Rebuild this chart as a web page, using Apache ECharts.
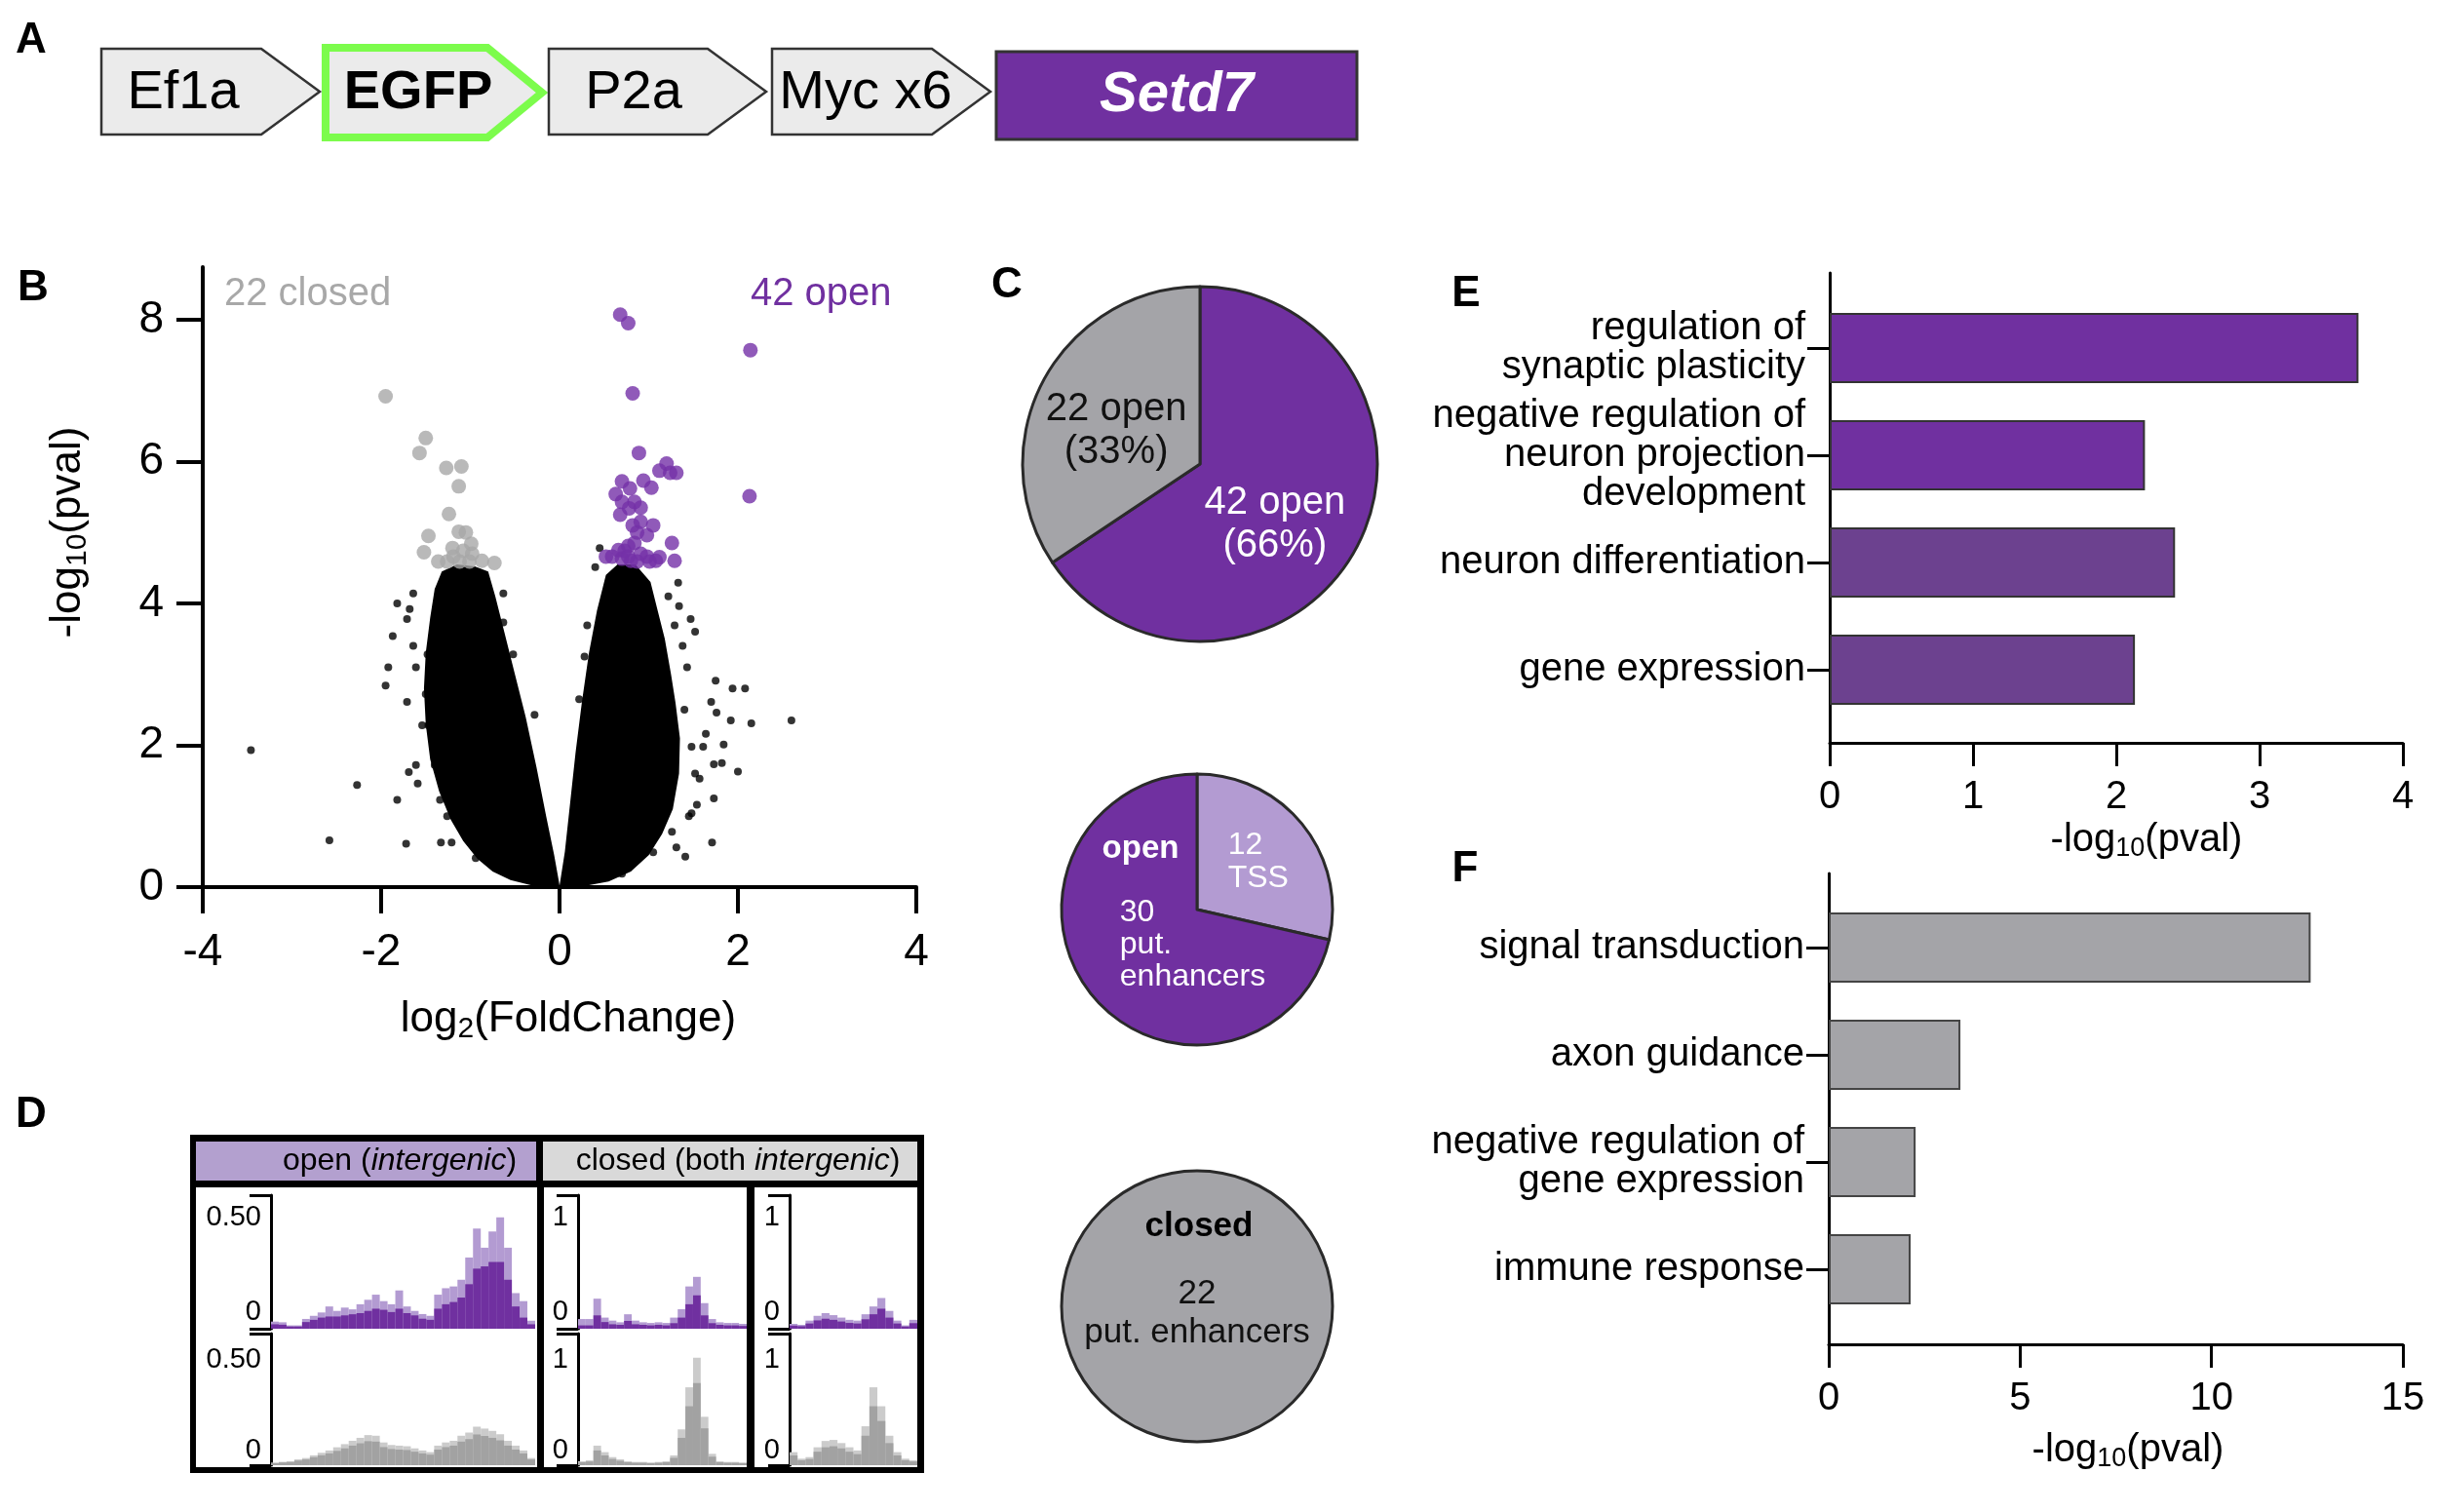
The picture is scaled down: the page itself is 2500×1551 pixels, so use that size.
<!DOCTYPE html>
<html><head><meta charset="utf-8">
<script src="https://cdn.jsdelivr.net/npm/echarts@6/dist/echarts.min.js"></script>
<style>html,body{margin:0;padding:0;background:#fff}#c{width:2500px;height:1551px}</style>
</head><body><div id="c"></div>
<script>
// ---------- DATA ----------
// B: volcano plot
const closedPoints = [[-1.95,6.92],[-1.50,6.33],[-1.57,6.12],[-1.27,5.91],[-1.10,5.93],[-1.13,5.65],[-1.24,5.26],[-1.47,4.95],[-1.13,5.01],[-1.05,5.0],[-1.52,4.72],[-1.20,4.78],[-0.99,4.84],[-1.36,4.59],[-1.19,4.66],[-1.08,4.74],[-0.98,4.70],[-0.87,4.60],[-0.73,4.57],[-1.26,4.59],[-1.12,4.59],[-1.01,4.59]];
const openPoints = [[0.68,8.07],[0.77,7.95],[2.14,7.57],[0.82,6.96],[0.89,6.12],[1.20,5.97],[1.12,5.87],[1.24,5.84],[1.31,5.84],[0.70,5.72],[0.94,5.73],[1.03,5.63],[0.79,5.62],[2.13,5.51],[0.63,5.54],[0.70,5.43],[0.84,5.43],[0.78,5.34],[0.91,5.35],[0.68,5.25],[0.91,5.15],[1.05,5.10],[0.82,5.10],[0.87,5.0],[0.98,4.96],[1.26,4.85],[0.77,4.81],[0.84,4.85],[0.66,4.75],[0.73,4.74],[0.59,4.66],[0.91,4.70],[0.98,4.66],[1.12,4.65],[1.29,4.60],[0.70,4.63],[0.80,4.60],[1.01,4.59],[0.52,4.66],[0.77,4.66],[0.87,4.59],[1.08,4.60]];
const otherPoints = [[-3.46,1.93],[-2.58,0.66],[-2.27,1.44],[-1.82,1.23],[-1.72,0.61],[-1.69,1.62],[-1.61,1.72],[-1.59,1.46],[-1.33,0.63],[-1.21,0.63],[-1.95,2.84],[-1.92,3.10],[-1.87,3.54],[-1.82,4.0],[-1.71,3.78],[-1.64,4.14],[-1.71,2.61],[-1.54,2.28],[-0.63,4.14],[-0.63,3.73],[-0.52,3.28],[-0.28,2.43],[-0.94,0.41],
  [-1.68,3.92],[-1.64,3.40],[-1.61,3.10],[-1.48,3.28],[-1.40,3.62],[-1.50,2.72],[-1.47,2.28],[-1.40,1.72],[-1.34,1.23],[-1.26,1.0],[-0.49,2.43],[-0.38,1.90],[-0.28,1.31],
  [0.31,3.69],[0.45,4.78],[0.40,4.51],[1.47,3.78],[1.52,3.60],[1.75,2.91],[1.94,2.80],[2.08,2.80],[1.70,2.61],[1.76,2.46],[1.92,2.35],[2.15,2.31],[2.60,2.35],[1.84,2.01],[1.64,2.16],[1.61,1.98],[1.73,1.73],[1.82,1.75],[2.00,1.63],[1.73,1.25],[1.71,0.63],[1.41,0.43],[1.31,0.56],[1.54,1.16],[1.48,1.04],[1.57,1.53],[1.33,4.29],[1.22,4.10],[1.34,3.96],[0.65,0.20],
  [1.29,3.69],[1.38,3.40],[1.43,3.10],[1.40,2.50],[1.48,1.98],[1.52,1.60],[1.45,1.0],[1.26,0.78],[1.05,0.49],[0.70,0.19],[0.28,3.25],[0.22,2.65]];
// outline of the dense cloud of non-significant peaks
const cloudLeft = [[0,0.02],[-0.3,0.02],[-0.55,0.1],[-0.75,0.22],[-0.92,0.4],[-1.08,0.65],[-1.22,0.95],[-1.35,1.35],[-1.45,1.8],[-1.5,2.3],[-1.52,2.8],[-1.5,3.3],[-1.45,3.8],[-1.4,4.2],[-1.32,4.45],[-1.15,4.55],[-0.95,4.52],[-0.8,4.45],[-0.72,4.1],[-0.62,3.6],[-0.5,3.0],[-0.38,2.4],[-0.26,1.7],[-0.15,1.0],[-0.06,0.45],[-0.01,0.1]];
const cloudRight = [[0.01,0.1],[0.06,0.5],[0.12,1.2],[0.18,1.9],[0.25,2.6],[0.33,3.3],[0.42,3.9],[0.52,4.4],[0.65,4.55],[0.85,4.55],[1.02,4.3],[1.1,3.9],[1.18,3.5],[1.25,3.0],[1.3,2.6],[1.35,2.1],[1.34,1.6],[1.27,1.1],[1.15,0.75],[1.0,0.45],[0.8,0.22],[0.55,0.08],[0.3,0.02],[0,0.02]];
const volcanoXTicks = [-4,-2,0,2,4];
const volcanoYTicks = [0,2,4,6,8];

// C: pies
const pieTopValues = [42, 22];
const pieTopLabels = ['42 open\n(66%)', '22 open\n(33%)'];
const pieMidValues = [12, 30];
const pieMidLabels = ['{a|12}\n{a|TSS}', '{b|30}\n{b|put.}\n{b|enhancers}'];
const pieBotValues = [22];
const pieBotLabels = ['22\nput. enhancers'];

// E, F: GO term bars
const eTerms = ['regulation of\nsynaptic plasticity', 'negative regulation of\nneuron projection\ndevelopment', 'neuron differentiation', 'gene expression'];
const eValues = [3.69, 2.20, 2.41, 2.13];
const fTerms = ['signal transduction', 'axon guidance', 'negative regulation of\ngene expression', 'immune response'];
const fValues = [12.59, 3.44, 2.27, 2.14];

// D: coverage tracks (light = max, dark = mean)
const p1UpLight = [0.032,0.029,0.015,0.015,0.044,0.058,0.073,0.10,0.08,0.095,0.087,0.11,0.13,0.153,0.124,0.11,0.172,0.10,0.08,0.066,0.058,0.153,0.182,0.19,0.22,0.32,0.45,0.364,0.437,0.50,0.364,0.16,0.124,0.036];
const p1UpDark  = [0.02,0.018,0.01,0.01,0.03,0.04,0.05,0.055,0.055,0.06,0.065,0.07,0.08,0.09,0.085,0.075,0.09,0.07,0.06,0.045,0.04,0.09,0.11,0.12,0.14,0.2,0.27,0.28,0.3,0.3,0.22,0.1,0.05,0.02];
const p1LowLight = [0.012,0.016,0.019,0.028,0.034,0.047,0.059,0.07,0.085,0.10,0.116,0.13,0.143,0.14,0.108,0.096,0.093,0.09,0.08,0.07,0.062,0.093,0.108,0.116,0.14,0.155,0.183,0.174,0.163,0.147,0.116,0.093,0.07,0.034];
const p1LowDark  = [0.01,0.013,0.015,0.022,0.027,0.038,0.047,0.056,0.068,0.08,0.093,0.104,0.114,0.112,0.086,0.077,0.074,0.072,0.064,0.056,0.05,0.074,0.086,0.093,0.112,0.124,0.146,0.139,0.13,0.118,0.093,0.074,0.056,0.027];
const p2UpLight = [0.087,0.087,0.27,0.10,0.073,0.058,0.13,0.073,0.058,0.052,0.058,0.052,0.10,0.175,0.38,0.466,0.23,0.087,0.058,0.052,0.052,0.044];
const p2UpDark  = [0.03,0.03,0.12,0.06,0.04,0.035,0.07,0.04,0.035,0.03,0.035,0.03,0.05,0.1,0.22,0.3,0.12,0.05,0.035,0.03,0.03,0.025];
const p2LowLight = [0.037,0.046,0.186,0.124,0.077,0.056,0.037,0.031,0.031,0.025,0.031,0.037,0.093,0.34,0.74,1.02,0.46,0.108,0.037,0.031,0.031,0.025];
const p2LowDark  = [0.028,0.035,0.14,0.093,0.058,0.042,0.028,0.023,0.023,0.019,0.023,0.028,0.07,0.26,0.56,0.78,0.35,0.081,0.028,0.023,0.023,0.019];
const p3UpLight = [0.044,0.035,0.073,0.116,0.14,0.122,0.10,0.08,0.073,0.13,0.20,0.276,0.16,0.073,0.03,0.08];
const p3UpDark  = [0.028,0.023,0.047,0.075,0.09,0.08,0.065,0.052,0.047,0.085,0.13,0.18,0.1,0.047,0.02,0.05];
const p3LowLight = [0.124,0.062,0.077,0.17,0.23,0.24,0.21,0.17,0.14,0.37,0.74,0.56,0.28,0.124,0.062,0.046];
const p3LowDark  = [0.093,0.047,0.058,0.128,0.17,0.18,0.16,0.128,0.105,0.28,0.56,0.42,0.21,0.093,0.047,0.035];
const trackUpTicks1 = [0, 0.5];
const trackLowTicks1 = [0, 0.5];
const trackTicks23 = [0, 1];

// ---------- STYLE ----------
const FONT = '"Liberation Sans", Arial, sans-serif';
const PURPLE = '#7030a0', PURPLE2 = '#6c418f', LPURPLE = '#b39bd2', GREY = '#a4a4a8';
const chart = echarts.init(document.getElementById('c'), null, {renderer: 'canvas'});

function T(text, x, y, size, extra) {
  return {type: 'text', z: 100, style: Object.assign({text, x, y, fontSize: size, fontFamily: FONT, fill: '#000', align: 'center', verticalAlign: 'middle'}, extra || {})};
}
function subTitle(pre, sub, post, x, y, size, extra) {
  return {type: 'text', z: 100, rotation: extra && extra.rot || 0, x, y, style: {
    text: '{a|' + pre + '}{s|' + sub + '}{a|' + post + '}', x: 0, y: 0, align: 'center', verticalAlign: 'middle',
    rich: {a: {fontSize: size, fontFamily: FONT, fill: '#000'}, s: {fontSize: Math.round(size * 0.68), fontFamily: FONT, fill: '#000', padding: [Math.round(size * 0.45), 0, 0, 0]}}
  }};
}
function box(pts, stroke, lw) {
  return {type: 'polygon', shape: {points: pts}, style: {fill: '#ebebeb', stroke: stroke, lineWidth: lw}};
}
const graphics = [
  // panel letters
  T('A', 32, 42, 44, {fontWeight: 'bold'}), T('B', 34, 296, 44, {fontWeight: 'bold'}),
  T('C', 1033, 293, 44, {fontWeight: 'bold'}), T('D', 32, 1144, 44, {fontWeight: 'bold'}),
  T('E', 1504, 302, 44, {fontWeight: 'bold'}), T('F', 1503, 892, 44, {fontWeight: 'bold'}),
  // A construct
  box([[104,50],[268,50],[328,94],[268,138],[104,138]], '#333', 2.5),
  box([[334,49],[500,49],[556,95],[500,141],[334,141]], '#7cfc4c', 8),
  box([[563,50],[726,50],[786,94],[726,138],[563,138]], '#333', 2.5),
  box([[792,50],[956,50],[1016,94],[956,138],[792,138]], '#333', 2.5),
  {type: 'rect', shape: {x: 1022, y: 53, width: 370, height: 90}, style: {fill: PURPLE, stroke: '#333', lineWidth: 3}},
  T('Ef1a', 188, 96, 56), T('EGFP', 429, 96, 56, {fontWeight: 'bold'}), T('P2a', 650, 96, 56), T('Myc x6', 888, 96, 56),
  T('Setd7', 1207, 98, 58, {fontWeight: 'bold', fontStyle: 'italic', fill: '#fff'}),
  // B annotations and titles
  T('22 closed', 230, 302, 40, {align: 'left', fill: '#a8a8a8'}),
  T('42 open', 770, 302, 40, {align: 'left', fill: PURPLE}),
  subTitle('log', '2', '(FoldChange)', 583, 1046, 44),
  subTitle('-log', '10', '(pval)', 70, 546, 44, {rot: Math.PI / 2}),
  // C pie inner titles
  T('open', 1170, 871, 33, {fontWeight: 'bold', fill: '#fff'}),
  T('closed', 1230, 1258, 35, {fontWeight: 'bold'}),
  // E, F axis titles
  subTitle('-log', '10', '(pval)', 2202, 862, 40),
  subTitle('-log', '10', '(pval)', 2183, 1488, 40),
  // D frame
  {type: 'rect', shape: {x: 195, y: 1164, width: 753, height: 347}, style: {fill: '#000'}},
  {type: 'rect', shape: {x: 201, y: 1171, width: 349, height: 40}, style: {fill: '#b3a0cf'}},
  {type: 'rect', shape: {x: 557, y: 1171, width: 384, height: 40}, style: {fill: '#d9d9d9'}},
  {type: 'rect', shape: {x: 201, y: 1218, width: 350, height: 287}, style: {fill: '#fff'}},
  {type: 'rect', shape: {x: 558, y: 1218, width: 208, height: 287}, style: {fill: '#fff'}},
  {type: 'rect', shape: {x: 774, y: 1218, width: 167, height: 287}, style: {fill: '#fff'}},
  {type: 'text', z: 100, style: {text: '{n|open (}{i|intergenic}{n|)}', x: 410, y: 1191, align: 'center', verticalAlign: 'middle',
    rich: {n: {fontSize: 32, fontFamily: FONT, fill: '#000'}, i: {fontSize: 32, fontFamily: FONT, fontStyle: 'italic', fill: '#000'}}}},
  {type: 'text', z: 100, style: {text: '{n|closed (both }{i|intergenic}{n|)}', x: 757, y: 1191, align: 'center', verticalAlign: 'middle',
    rich: {n: {fontSize: 32, fontFamily: FONT, fill: '#000'}, i: {fontSize: 32, fontFamily: FONT, fontStyle: 'italic', fill: '#000'}}}}
];

// ---------- GRIDS / AXES ----------
const grids = [
  {left: 208, top: 274, width: 732, height: 636},   // 0 B
  {left: 1877, top: 280, width: 588, height: 482},  // 1 E axes
  {left: 1877, top: 302, width: 588, height: 440},  // 2 E bars
  {left: 1876, top: 896, width: 589, height: 483},  // 3 F axes
  {left: 1876, top: 917, width: 589, height: 440},  // 4 F bars
  {left: 278, top: 1226, width: 271, height: 137},  // 5 D1 up
  {left: 278, top: 1368, width: 271, height: 135},  // 6 D1 low
  {left: 593, top: 1226, width: 173, height: 137},  // 7 D2 up
  {left: 593, top: 1368, width: 173, height: 135},  // 8 D2 low
  {left: 810, top: 1226, width: 131, height: 137},  // 9 D3 up
  {left: 810, top: 1368, width: 131, height: 135}   // 10 D3 low
];
const BL = {color: '#000', width: 4};
const L3 = {color: '#000', width: 3};
const xAxes = [
  {type: 'value', gridIndex: 0, min: -4, max: 4, interval: 2, axisLine: {lineStyle: BL}, axisTick: {length: 27, lineStyle: BL},
    axisLabel: {fontSize: 46, margin: 44, color: '#000', fontFamily: FONT, customValues: volcanoXTicks}, splitLine: {show: false}},
  {type: 'value', gridIndex: 1, min: 0, max: 4, interval: 1, axisLine: {lineStyle: L3}, axisTick: {length: 24, lineStyle: L3},
    axisLabel: {fontSize: 40, margin: 36, color: '#000', fontFamily: FONT}, splitLine: {show: false}},
  {type: 'value', gridIndex: 2, min: 0, max: 4, show: false},
  {type: 'value', gridIndex: 3, min: 0, max: 15, interval: 5, axisLine: {lineStyle: L3}, axisTick: {length: 24, lineStyle: L3},
    axisLabel: {fontSize: 40, margin: 36, color: '#000', fontFamily: FONT}, splitLine: {show: false}},
  {type: 'value', gridIndex: 4, min: 0, max: 15, show: false}
];
const tracks = [
  [p1UpLight, p1UpDark, 0.6, trackUpTicks1, LPURPLE, PURPLE, 17],
  [p1LowLight, p1LowDark, 0.625, trackLowTicks1, '#cbcbcb', '#a2a2a2', 15],
  [p2UpLight, p2UpDark, 1.2, trackTicks23, LPURPLE, PURPLE, 17],
  [p2LowLight, p2LowDark, 1.25, trackTicks23, '#cbcbcb', '#a2a2a2', 15],
  [p3UpLight, p3UpDark, 1.2, trackTicks23, LPURPLE, PURPLE, 17],
  [p3LowLight, p3LowDark, 1.25, trackTicks23, '#cbcbcb', '#a2a2a2', 15]
];
const yAxes = [
  {type: 'value', gridIndex: 0, min: 0, max: 8.74, axisLine: {show: true, onZero: false, lineStyle: BL},
    axisTick: {show: true, length: 27, lineStyle: BL, customValues: volcanoYTicks},
    axisLabel: {fontSize: 46, margin: 40, color: '#000', fontFamily: FONT, customValues: volcanoYTicks}, splitLine: {show: false}},
  {type: 'value', gridIndex: 1, min: 0, max: 1, axisLine: {show: true, lineStyle: L3}, axisTick: {show: false}, axisLabel: {show: false}, splitLine: {show: false}},
  {type: 'category', gridIndex: 2, data: eTerms, inverse: true, axisLine: {show: false},
    axisTick: {show: true, alignWithLabel: true, length: 23, lineStyle: L3},
    axisLabel: {fontSize: 40, lineHeight: 40, margin: 25, color: '#000', fontFamily: FONT, align: 'right'}},
  {type: 'value', gridIndex: 3, min: 0, max: 1, axisLine: {show: true, lineStyle: L3}, axisTick: {show: false}, axisLabel: {show: false}, splitLine: {show: false}},
  {type: 'category', gridIndex: 4, data: fTerms, inverse: true, axisLine: {show: false},
    axisTick: {show: true, alignWithLabel: true, length: 23, lineStyle: L3},
    axisLabel: {fontSize: 40, lineHeight: 40, margin: 25, color: '#000', fontFamily: FONT, align: 'right'}}
];
const series = [
  {type: 'custom', xAxisIndex: 0, yAxisIndex: 0, data: [[0, 0], [0, 0]], z: 2,
    renderItem: function (params, api) {
      const poly = [cloudLeft, cloudRight][params.dataIndex];
      return {type: 'polygon', shape: {points: poly.map(p => api.coord(p))}, style: {fill: '#000'}};
    }},
  {type: 'scatter', xAxisIndex: 0, yAxisIndex: 0, data: otherPoints, symbolSize: 8, itemStyle: {color: '#000'}, z: 3},
  {type: 'scatter', xAxisIndex: 0, yAxisIndex: 0, data: closedPoints, symbolSize: 15, itemStyle: {color: '#a8a8a8'}, z: 4},
  {type: 'scatter', xAxisIndex: 0, yAxisIndex: 0, data: openPoints, symbolSize: 15, itemStyle: {color: '#7431a8'}, z: 4},
  {type: 'bar', xAxisIndex: 2, yAxisIndex: 2, barWidth: 72,
    data: eValues.map((v, i) => ({value: v, itemStyle: {color: i < 2 ? PURPLE : PURPLE2}})),
    itemStyle: {borderColor: '#333', borderWidth: 2}},
  {type: 'bar', xAxisIndex: 4, yAxisIndex: 4, barWidth: 72, data: fValues,
    itemStyle: {color: GREY, borderColor: '#444', borderWidth: 2}},
  // C pies
  {type: 'pie', center: [1231, 476], radius: 182, startAngle: 90, clockwise: true, silent: true,
    itemStyle: {borderColor: '#2a2a2a', borderWidth: 3},
    label: {position: 'inside', fontSize: 40, lineHeight: 44, fontFamily: FONT},
    labelLine: {show: false},
    data: pieTopValues.map((v, i) => ({value: v, name: 'top' + i,
      itemStyle: {color: i === 0 ? PURPLE : GREY},
      label: {formatter: pieTopLabels[i], color: i === 0 ? '#fff' : '#111'}})),
    labelLayout: function (p) { return [{dx: -6, dy: 18}, {dx: -3, dy: 10}][p.dataIndex]; }},
  {type: 'pie', center: [1228, 933], radius: 139, startAngle: 90, clockwise: true, silent: true,
    itemStyle: {borderColor: '#2a2a2a', borderWidth: 3},
    label: {position: 'inside', fontSize: 32, lineHeight: 33, fontFamily: FONT, color: '#fff',
      rich: {a: {fontSize: 32, lineHeight: 34, width: 62, align: 'left', color: '#fff', fontFamily: FONT},
             b: {fontSize: 32, lineHeight: 33, width: 151, align: 'left', color: '#fff', fontFamily: FONT}}},
    labelLine: {show: false},
    data: pieMidValues.map((v, i) => ({value: v, name: 'mid' + i,
      itemStyle: {color: i === 0 ? LPURPLE : PURPLE}, label: {formatter: pieMidLabels[i]}})),
    labelLayout: function (p) { return [{dx: 6, dy: -4}, {dx: 53, dy: -9}][p.dataIndex]; }},
  {type: 'pie', center: [1228, 1340], radius: 139, startAngle: 90, silent: true,
    itemStyle: {borderColor: '#2a2a2a', borderWidth: 3},
    label: {position: 'center', fontSize: 35, lineHeight: 40, fontFamily: FONT, color: '#111'},
    labelLine: {show: false},
    data: pieBotValues.map((v, i) => ({value: v, name: 'bot' + i, itemStyle: {color: GREY}, label: {formatter: pieBotLabels[i]}})),
    labelLayout: function () { return {dy: 7}; }}
];
tracks.forEach(function (t, k) {
  const gi = 5 + k;
  const idx = xAxes.length;
  xAxes.push({type: 'category', gridIndex: gi, data: t[0].map((_, i) => i), show: false});
  const max = t[2], isOne = t[3][1] === 1;
  yAxes.push({type: 'value', gridIndex: gi, min: 0, max: max,
    axisLine: {show: true, lineStyle: L3},
    axisTick: {show: true, length: 22, lineStyle: L3, customValues: [0, max]},
    axisLabel: {customValues: t[3], margin: 10, color: '#000',
      formatter: function (v) { return v === 0 ? '{z|0}' : '{n|' + (isOne ? '1' : '0.50') + '}'; },
      rich: {z: {fontSize: 29, fontFamily: FONT, padding: [0, 0, t[6] * 2, 0]}, n: {fontSize: 29, fontFamily: FONT}}},
    splitLine: {show: false}});
  series.push({type: 'bar', xAxisIndex: idx, yAxisIndex: idx, data: t[0], barCategoryGap: '0%', barGap: '-100%', itemStyle: {color: t[4]}, z: 2});
  series.push({type: 'bar', xAxisIndex: idx, yAxisIndex: idx, data: t[1], barCategoryGap: '0%', barGap: '-100%', itemStyle: {color: t[5]}, z: 3});
});

chart.setOption({
  backgroundColor: '#fff',
  animation: false,
  textStyle: {fontFamily: FONT},
  grid: grids,
  xAxis: xAxes,
  yAxis: yAxes,
  series: series,
  graphic: graphics
});
</script></body></html>
